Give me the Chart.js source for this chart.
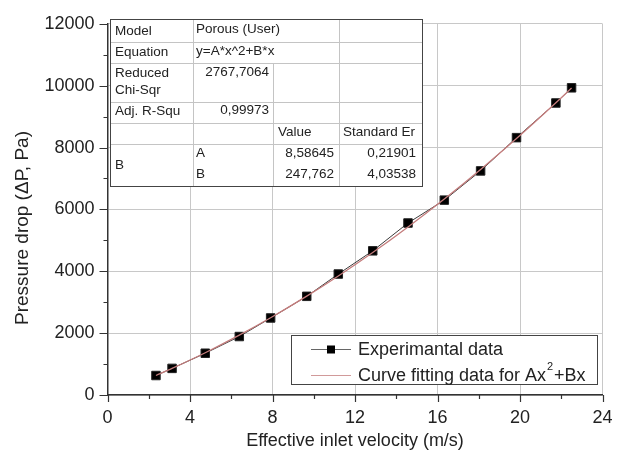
<!DOCTYPE html>
<html lang="en">
<head>
  <meta charset="UTF-8">
  <title>Pressure drop vs inlet velocity</title>
  <script src="https://cdn.jsdelivr.net/npm/chart.js"></script>
  <style>
    html, body { margin: 0; padding: 0; background: #fff; }
    #wrap { width: 617px; height: 459px; }
  </style>
</head>
<body>
  <div id="wrap"><canvas id="pressureChart" width="617" height="459"></canvas></div>

  <script>
    const velocity = [2.35, 3.13, 4.74, 6.39, 7.91, 9.66, 11.19, 12.86, 14.57, 16.33, 18.09, 19.83, 21.74, 22.5];
    const pressure = [630, 860, 1350, 1890, 2490, 3190, 3910, 4660, 5560, 6300, 7245, 8320, 9440, 9930];
    // fitted curve at the same velocities
    const fitPressure = [630, 860, 1367, 1934, 2497, 3195, 3848, 4606, 5433, 6336, 7292, 8290, 9445, 9922];

    const xTicks = [0, 4, 8, 12, 16, 20, 24];
    const yTicks = [0, 2000, 4000, 6000, 8000, 10000, 12000];

    const seriesNames = ['Experimantal data', 'Curve fitting data for Ax'];
    const xTitle = 'Effective inlet velocity (m/s)';
    const yTitle = 'Pressure drop (\u0394P, Pa)';

    // fit report table (Origin style)
    const fitModel = ['Model', 'Porous (User)'];
    const fitEquation = ['Equation', 'y=A*x^2+B*x'];
    const fitChi = ['Reduced', 'Chi-Sqr', '2767,7064'];
    const fitR2 = ['Adj. R-Squ', '0,99973'];
    const fitHeader = ['Value', 'Standard Er'];
    const fitParams = [['A', '8,58645', '0,21901'], ['B', '247,762', '4,03538']];

    const FONT = 'Arial, "Liberation Sans", sans-serif';
    const TEXT = '#222';

    const overlay = {
      id: 'overlay',
      afterDraw(chart) {
        const { ctx, chartArea: a, scales: { x, y } } = chart;
        ctx.save();

        // tick marks, outward, major and minor
        ctx.strokeStyle = '#333';
        ctx.lineWidth = 1.2;
        ctx.beginPath();
        for (let v = 0; v <= 24; v += 2) {
          const px = Math.round(x.getPixelForValue(v)) + 0.5;
          const len = v % 4 === 0 ? 7 : 4;
          ctx.moveTo(px, a.bottom);
          ctx.lineTo(px, a.bottom + len);
        }
        for (let v = 0; v <= 12000; v += 1000) {
          const py = Math.round(y.getPixelForValue(v)) + 0.5;
          const len = v % 2000 === 0 ? 8 : 4;
          ctx.moveTo(a.left, py);
          ctx.lineTo(a.left - len, py);
        }
        ctx.stroke();

        // axis titles
        ctx.fillStyle = TEXT;
        ctx.font = '18px ' + FONT;
        ctx.textAlign = 'center';
        ctx.textBaseline = 'middle';
        ctx.fillText(xTitle, (a.left + a.right) / 2, 441);
        ctx.save();
        ctx.translate(23, 228);
        ctx.rotate(-Math.PI / 2);
        ctx.font = '19px ' + FONT;
        ctx.fillText(yTitle, 0, 0);
        ctx.restore();

        // legend box
        const lg = { l: 291.5, t: 335.5, r: 597.5, b: 384.5 };
        ctx.fillStyle = '#fff';
        ctx.fillRect(lg.l, lg.t, lg.r - lg.l, lg.b - lg.t);
        ctx.strokeStyle = '#444';
        ctx.lineWidth = 1;
        ctx.strokeRect(lg.l, lg.t, lg.r - lg.l, lg.b - lg.t);

        ctx.strokeStyle = '#666';
        ctx.beginPath();
        ctx.moveTo(311, 349.5); ctx.lineTo(351, 349.5);
        ctx.stroke();
        ctx.fillStyle = '#000';
        ctx.fillRect(327, 345.5, 8, 8);

        ctx.strokeStyle = '#d19a9a';
        ctx.beginPath();
        ctx.moveTo(311, 375.5); ctx.lineTo(351, 375.5);
        ctx.stroke();

        ctx.fillStyle = TEXT;
        ctx.font = '18px ' + FONT;
        ctx.textAlign = 'left';
        ctx.fillText(seriesNames[0], 358, 350);
        ctx.fillText(seriesNames[1], 358, 376);
        const w = ctx.measureText(seriesNames[1]).width;
        ctx.font = '11px ' + FONT;
        ctx.fillText('2', 358 + w + 1, 367);
        ctx.font = '18px ' + FONT;
        ctx.fillText('+Bx', 358 + w + 8, 376);

        // fit table
        const cols = [110.5, 193.5, 273.5, 339.5, 422.5];
        const rows = [19.5, 42.5, 63.5, 102.5, 123.5, 144.5, 186.5];
        ctx.fillStyle = '#fff';
        ctx.fillRect(cols[0], rows[0], cols[4] - cols[0], rows[6] - rows[0]);

        ctx.strokeStyle = '#c4c4c4';
        ctx.beginPath();
        for (let i = 1; i < 6; i++) {
          ctx.moveTo(cols[0], rows[i]); ctx.lineTo(cols[4], rows[i]);
        }
        ctx.moveTo(cols[1], rows[0]); ctx.lineTo(cols[1], rows[6]);
        ctx.moveTo(cols[2], rows[2]); ctx.lineTo(cols[2], rows[6]);
        ctx.moveTo(cols[3], rows[0]); ctx.lineTo(cols[3], rows[6]);
        ctx.stroke();
        ctx.strokeStyle = '#444';
        ctx.strokeRect(cols[0], rows[0], cols[4] - cols[0], rows[6] - rows[0]);

        ctx.fillStyle = TEXT;
        ctx.font = '13.5px ' + FONT;
        ctx.textAlign = 'left';
        ctx.fillText(fitModel[0], 115, 31);
        ctx.fillText(fitModel[1], 196, 29);
        ctx.fillText(fitEquation[0], 115, 52);
        ctx.fillText(fitEquation[1], 196, 51);
        ctx.fillText(fitChi[0], 115, 73);
        ctx.fillText(fitChi[1], 115, 90);
        ctx.fillText(fitR2[0], 115, 111);
        ctx.fillText(fitHeader[0], 278, 132);
        ctx.fillText(fitHeader[1], 343, 132);
        ctx.fillText('B', 115, 165);
        fitParams.forEach((p, i) => {
          const ry = 153 + i * 21;
          ctx.textAlign = 'left';
          ctx.fillText(p[0], 196, ry);
          ctx.textAlign = 'right';
          ctx.fillText(p[1], 334, ry);
          ctx.fillText(p[2], 416, ry);
        });
        ctx.textAlign = 'right';
        ctx.fillText(fitChi[2], 269, 72);
        ctx.fillText(fitR2[1], 269, 110);

        ctx.restore();
      }
    };

    const ctx = document.getElementById('pressureChart').getContext('2d');
    new Chart(ctx, {
      type: 'line',
      data: {
        datasets: [{
          label: seriesNames[1],
          data: velocity.map((v, i) => ({ x: v, y: fitPressure[i] })),
          borderColor: '#c47c7c',
          borderWidth: 1.3,
          pointRadius: 0,
          cubicInterpolationMode: 'monotone',
          order: 1
        }, {
          label: seriesNames[0],
          data: velocity.map((v, i) => ({ x: v, y: pressure[i] })),
          borderColor: '#3a3a3a',
          borderWidth: 1,
          pointStyle: 'rect',
          pointRadius: 6,
          pointBackgroundColor: '#000',
          pointBorderColor: '#222',
          pointBorderWidth: 1,
          tension: 0,
          order: 2
        }]
      },
      options: {
        responsive: false,
        animation: false,
        layout: { padding: { top: 16, right: 14.5, left: 0, bottom: 0 } },
        plugins: { legend: { display: false }, tooltip: { enabled: false } },
        scales: {
          x: {
            type: 'linear',
            min: 0,
            max: 24,
            afterFit: s => { s.height = 64; s.paddingRight = 0; s.paddingLeft = 0; },
            ticks: {
              stepSize: 4,
              padding: 12,
              color: TEXT,
              font: { family: FONT, size: 18 },
              callback: v => xTicks.includes(v) ? String(v) : ''
            },
            grid: { color: '#c8c8c8', lineWidth: 1, drawTicks: false },
            border: { color: '#333', width: 1.5 }
          },
          y: {
            min: 0,
            max: 12000,
            afterFit: s => { s.width = 107.5; },
            ticks: {
              stepSize: 2000,
              padding: 13,
              color: TEXT,
              font: { family: FONT, size: 18 },
              callback: v => yTicks.includes(v) ? String(v) : ''
            },
            grid: { color: '#c8c8c8', lineWidth: 1, drawTicks: false },
            border: { color: '#333', width: 1.5 }
          }
        }
      },
      plugins: [overlay]
    });
  </script>
</body>
</html>
